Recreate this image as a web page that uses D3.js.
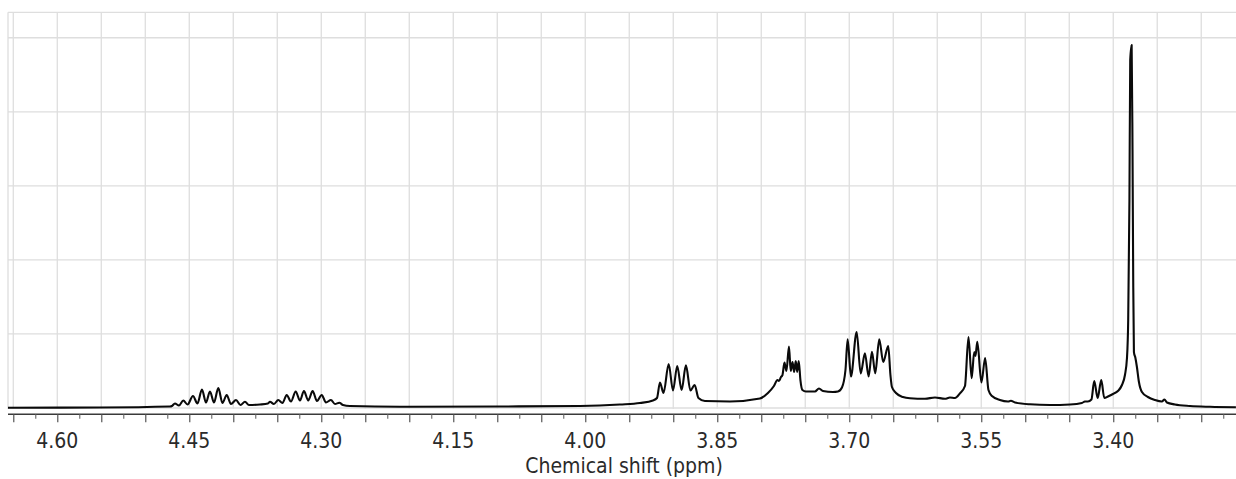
<!DOCTYPE html>
<html>
<head>
<meta charset="utf-8">
<script src="https://cdn.jsdelivr.net/npm/d3@7"></script>
<style>
  html, body { margin: 0; padding: 0; background: #fff; }
  svg { display: block; }
  text { font-family: "DejaVu Sans Condensed", "DejaVu Sans", sans-serif; font-stretch: condensed; fill: #2a2a2a; }
</style>
</head>
<body>
<svg id="chart" width="1236" height="479"></svg>
<script>
// 1H NMR trace: chemical shift (ppm) and normalised intensity, read as vertices
const shiftPpm = [
  4.6560, 4.5515, 4.4719, 4.4697,
  4.4663, 4.4617, 4.4568, 4.4520, 4.4458, 4.4407, 4.4356, 4.4310, 4.4265, 4.4219,
  4.4170, 4.4123, 4.4075, 4.4026, 4.3969, 4.3918, 4.3867, 4.3822,
  4.3697, 4.3606,
  4.3583, 4.3538, 4.3489, 4.3441, 4.3393, 4.3344, 4.3291, 4.3242, 4.3197, 4.3148,
  4.3098, 4.3049, 4.2995, 4.2947, 4.2890, 4.2844, 4.2795, 4.2753, 4.2674,
  4.2106, 4.0969, 4.0060, 3.9606, 3.9378, 3.9231, 3.9185,
  3.9151, 3.9111, 3.9052, 3.9003, 3.8955, 3.8905, 3.8856, 3.8805, 3.8757, 3.8714,
  3.8640, 3.8356, 3.8015, 3.7924, 3.7856,
  3.7816, 3.7799, 3.7776, 3.7759, 3.7736, 3.7714, 3.7685, 3.7665, 3.7645, 3.7626,
  3.7608, 3.7592, 3.7574, 3.7555, 3.7532,
  3.7492, 3.7390, 3.7344, 3.7299, 3.7185, 3.7128, 3.7083, 3.7043,
  3.7018, 3.6981, 3.6916, 3.6870, 3.6822, 3.6780, 3.6742, 3.6705, 3.6659, 3.6614,
  3.6557, 3.6532, 3.6515, 3.6469, 3.6390,
  3.6310, 3.6140, 3.6026, 3.5913, 3.5856, 3.5799, 3.5742, 3.5685,
  3.5645, 3.5609, 3.5580, 3.5566, 3.5545, 3.5498, 3.5456, 3.5418, 3.5378,
  3.5288, 3.5197, 3.5163, 3.5117, 3.4947, 3.4719, 3.4492, 3.4356, 3.4322, 3.4288,
  3.4248, 3.4216, 3.4177, 3.4136, 3.4102, 3.4060, 3.4003, 3.3947, 3.3901, 3.3867,
  3.3844, 3.3830, 3.3816, 3.3807, 3.3791, 3.3781, 3.3773, 3.3765, 3.3748, 3.3731,
  3.3708, 3.3674, 3.3606, 3.3526, 3.3447, 3.3418, 3.3390, 3.3299, 3.3128, 3.2901,
  3.2606
];
const intensity = [
  0.0008, 0.0014, 0.0041, 0.0054,
  0.0122, 0.0068, 0.0203, 0.0095, 0.0324, 0.0122, 0.0500, 0.0149, 0.0446, 0.0149,
  0.0540, 0.0135, 0.0351, 0.0108, 0.0216, 0.0081, 0.0170, 0.0081,
  0.0095, 0.0122,
  0.0170, 0.0108, 0.0216, 0.0135, 0.0351, 0.0176, 0.0446, 0.0203, 0.0459, 0.0203,
  0.0459, 0.0189, 0.0351, 0.0149, 0.0216, 0.0108, 0.0143, 0.0081, 0.0054,
  0.0035, 0.0041, 0.0054, 0.0095, 0.0135, 0.0203, 0.0270,
  0.0689, 0.0405, 0.1188, 0.0473, 0.1134, 0.0486, 0.1153, 0.0473, 0.0621, 0.0270,
  0.0189, 0.0176, 0.0257, 0.0405, 0.0594,
  0.0756, 0.0729, 0.0837, 0.0891, 0.1229, 0.0999, 0.1661, 0.0999, 0.1242, 0.0972,
  0.1269, 0.0972, 0.1269, 0.0756, 0.0486,
  0.0446, 0.0446, 0.0527, 0.0459, 0.0432, 0.0446, 0.0554, 0.1026,
  0.1856, 0.0851, 0.2053, 0.0932, 0.1477, 0.0851, 0.1521, 0.0937, 0.1856, 0.1242,
  0.1675, 0.0891, 0.0567, 0.0405, 0.0297,
  0.0262, 0.0248, 0.0284, 0.0248, 0.0284, 0.0270, 0.0397, 0.0594,
  0.1918, 0.0802, 0.1512, 0.1404, 0.1791, 0.0689, 0.1350, 0.0486, 0.0324,
  0.0216, 0.0176, 0.0194, 0.0149, 0.0100, 0.0081, 0.0095, 0.0135, 0.0176, 0.0176,
  0.0230, 0.0729, 0.0270, 0.0756, 0.0270, 0.0311, 0.0378, 0.0459, 0.0621, 0.0891,
  0.1350, 0.2377, 0.5618, 0.9399, 0.9804, 0.6968, 0.3457, 0.1512, 0.1350, 0.1107,
  0.0702, 0.0432, 0.0297, 0.0216, 0.0176, 0.0230, 0.0149, 0.0095, 0.0054, 0.0032,
  0.0019
];

// Axis ticks (ppm)
const labelTicks = [4.60, 4.45, 4.30, 4.15, 4.00, 3.85, 3.70, 3.55, 3.40];
const majorTicks = [4.65, 4.60, 4.55, 4.50, 4.45, 4.40, 4.35, 4.30, 4.25, 4.20, 4.15, 4.10,
  4.05, 4.00, 3.95, 3.90, 3.85, 3.80, 3.75, 3.70, 3.65, 3.60, 3.55, 3.50, 3.45, 3.40, 3.35, 3.30];
const minorTicks = [4.625, 4.575, 4.525, 4.475, 4.425, 4.375, 4.325, 4.275, 4.225, 4.175,
  4.125, 4.075, 4.025, 3.975, 3.925, 3.875, 3.825, 3.775, 3.725, 3.675, 3.625, 3.575,
  3.525, 3.475, 3.425, 3.375, 3.325, 3.275];
const intensityGrid = [0, 0.2, 0.4, 0.6, 0.8, 1.0];
const shiftRange = [4.656, 3.2605];
const intensityRange = [0, 1.0687];

const svg = d3.select("#chart");
const plot = { left: 8, right: 1236, top: 12.3, bottom: 408 };
const axisY = 414.3;
const fontSize = 21;

const x = d3.scaleLinear().domain(shiftRange).range([plot.left, plot.right]);
const y = d3.scaleLinear().domain(intensityRange).range([plot.bottom, plot.top]);

// grid
const grid = svg.append("g").attr("stroke", "#dedede").attr("stroke-width", 1.3).attr("fill", "none");
grid.selectAll("line.v").data(majorTicks).join("line")
  .attr("class", "v")
  .attr("x1", d => x(d)).attr("x2", d => x(d))
  .attr("y1", plot.top).attr("y2", plot.bottom + 1);
grid.selectAll("line.h").data(intensityGrid).join("line")
  .attr("class", "h")
  .attr("x1", plot.left).attr("x2", plot.right)
  .attr("y1", d => y(d)).attr("y2", d => y(d));
grid.append("line")
  .attr("x1", plot.left).attr("x2", plot.right)
  .attr("y1", plot.top).attr("y2", plot.top);
grid.append("line")
  .attr("x1", plot.left).attr("x2", plot.left)
  .attr("y1", plot.top).attr("y2", plot.bottom + 1);

// x axis with major (labelled every 0.15 ppm) and minor ticks
const axisG = svg.append("g").attr("transform", `translate(0,${axisY})`);
axisG.append("line")
  .attr("x1", plot.left).attr("x2", plot.right)
  .attr("y1", 0).attr("y2", 0)
  .attr("stroke", "#3a3a3a").attr("stroke-width", 1.4);
axisG.append("g")
  .call(d3.axisBottom(x).tickValues(majorTicks).tickSize(8).tickFormat(""))
  .call(g => g.select(".domain").remove())
  .call(g => g.selectAll(".tick line").attr("stroke", "#555").attr("stroke-width", 1.2));
axisG.append("g")
  .call(d3.axisBottom(x).tickValues(minorTicks).tickSize(4.5).tickFormat(""))
  .call(g => g.select(".domain").remove())
  .call(g => g.selectAll(".tick line").attr("stroke", "#666").attr("stroke-width", 1.1));

svg.append("g").selectAll("text").data(labelTicks).join("text")
  .attr("x", d => x(d))
  .attr("y", 447.5)
  .attr("text-anchor", "middle")
  .attr("font-size", fontSize)
  .text(d => d.toFixed(2));

svg.append("text")
  .attr("x", 624)
  .attr("y", 472.5)
  .attr("text-anchor", "middle")
  .attr("font-size", fontSize)
  .text("Chemical shift (ppm)");

// spectrum trace
const points = shiftPpm.map((s, i) => [s, intensity[i]]);
const line = d3.line()
  .x(d => x(d[0]))
  .y(d => y(d[1]))
  .curve(d3.curveMonotoneX);

svg.append("path")
  .datum(points)
  .attr("d", line)
  .attr("fill", "none")
  .attr("stroke", "#0a0a0a")
  .attr("stroke-width", 2.1)
  .attr("stroke-linejoin", "round");
</script>
</body>
</html>
